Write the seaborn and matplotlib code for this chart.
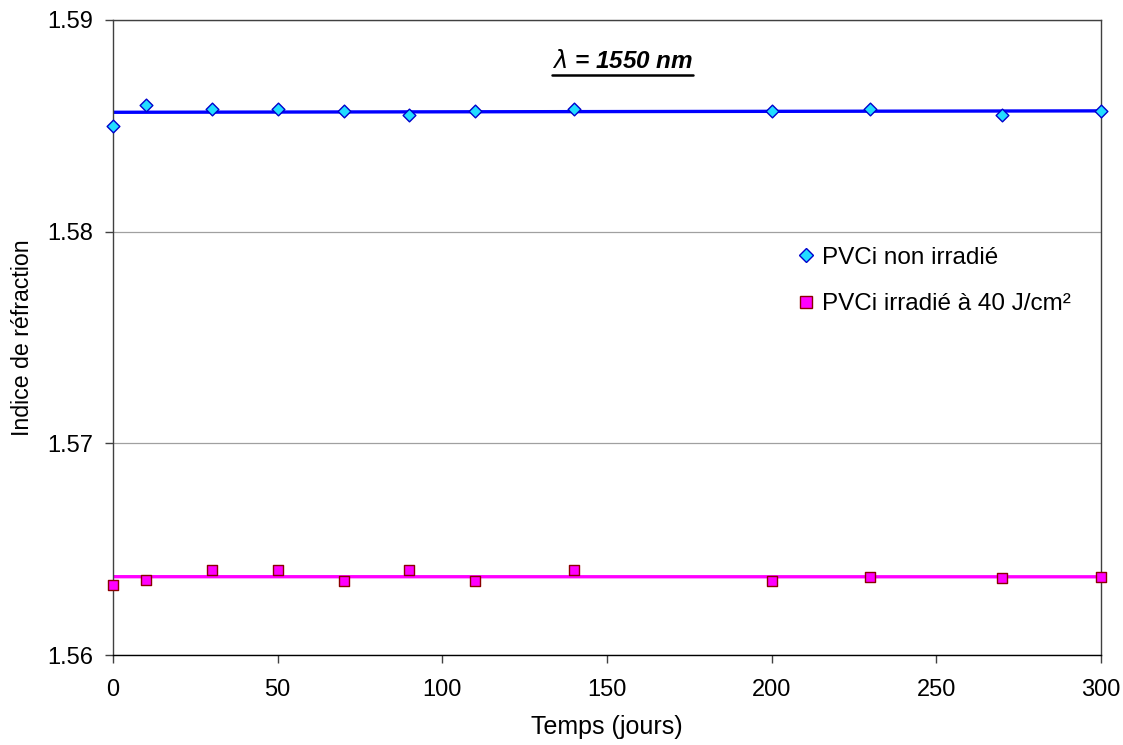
import numpy as np
import pandas as pd
import matplotlib
matplotlib.use("Agg")
import matplotlib.pyplot as plt
import seaborn as sns
from matplotlib.lines import Line2D

# data
jours = [0, 10, 30, 50, 70, 90, 110, 140, 200, 230, 270, 300]
n_non_irradie = [1.5850, 1.5860, 1.5858, 1.5858, 1.5857, 1.5855, 1.5857, 1.5858, 1.5857, 1.5858, 1.5855, 1.5857]
n_irradie = [1.56331, 1.56354, 1.5640, 1.5640, 1.5635, 1.5640, 1.5635, 1.5640, 1.5635, 1.56368, 1.56364, 1.5637]

label_non = "PVCi non irradié"
label_irr = "PVCi irradié à 40 J/cm²"

df_non = pd.DataFrame({"Temps (jours)": jours, "Indice": n_non_irradie})
df_irr = pd.DataFrame({"Temps (jours)": jours, "Indice": n_irradie})

cyan = "#22DDFF"
edge_blue = "#0000CC"
magenta = "#FF00FF"
edge_red = "#8B0000"

sns.set_style("white")
plt.rcParams["font.family"] = ["Liberation Sans", "DejaVu Sans"]
plt.rcParams["text.color"] = "black"
plt.rcParams["axes.labelcolor"] = "black"
plt.rcParams["xtick.color"] = "black"
plt.rcParams["ytick.color"] = "black"

fig = plt.figure(figsize=(11.23, 7.45), dpi=100)
ax = fig.add_axes([0.1006, 0.1208, 0.8798, 0.8524])

# linear trendlines (like Excel)
sns.regplot(data=df_non, x="Temps (jours)", y="Indice", scatter=False, ci=None,
            truncate=True, ax=ax, line_kws=dict(color="#0000FF", lw=2.4, zorder=2))
sns.regplot(data=df_irr, x="Temps (jours)", y="Indice", scatter=False, ci=None,
            truncate=True, ax=ax, line_kws=dict(color=magenta, lw=2.4, zorder=2))

sns.scatterplot(data=df_non, x="Temps (jours)", y="Indice", marker="D", s=42,
                color=cyan, edgecolor=edge_blue, linewidth=1.0, ax=ax, zorder=3,
                clip_on=False)
sns.scatterplot(data=df_irr, x="Temps (jours)", y="Indice", marker="s", s=62,
                color=magenta, edgecolor=edge_red, linewidth=1.0, ax=ax, zorder=3,
                clip_on=False)

ax.set_xlim(0, 300)
ax.set_ylim(1.56, 1.59)
ax.set_xticks([0, 50, 100, 150, 200, 250, 300])
ax.set_yticks([1.56, 1.57, 1.58, 1.59])
ax.set_yticklabels(["1.56", "1.57", "1.58", "1.59"])
ax.yaxis.grid(True, color="#A0A0A0", lw=0.9)
ax.xaxis.grid(False)
for sp in ax.spines.values():
    sp.set_color("#404040")
    sp.set_linewidth(1.0)
ax.spines["bottom"].set_color("black")
ax.tick_params(axis="both", direction="out", length=6, width=1, color="#404040",
               labelcolor="black", labelsize=17, bottom=True, left=True)
ax.tick_params(axis="x", pad=11)
ax.tick_params(axis="y", pad=8)
ax.set_xlabel("Temps (jours)", fontsize=18, labelpad=10, color="black")
ax.set_ylabel("Indice de réfraction", fontsize=16.7, labelpad=10, color="black")

t = ax.text(0.516, 0.934, r"$\lambda$ = 1550 nm", transform=ax.transAxes, color="black",
            ha="center", va="center", fontsize=17.5, fontweight="bold", style="italic")
# underline the title
fig.canvas.draw()
bb = t.get_window_extent().transformed(ax.transAxes.inverted())
ax.add_line(Line2D([bb.x0, bb.x1], [bb.y0 - 0.003, bb.y0 - 0.003], transform=ax.transAxes,
                   color="black", lw=1.8))

handles = [
    Line2D([], [], marker="D", ls="", markersize=7, markerfacecolor=cyan,
           markeredgecolor=edge_blue, markeredgewidth=1.0),
    Line2D([], [], marker="s", ls="", markersize=8, markerfacecolor=magenta,
           markeredgecolor=edge_red, markeredgewidth=1.0),
]
leg = ax.legend(handles, [label_non, label_irr], loc="upper left", bbox_to_anchor=(0.671, 0.677),
                frameon=False, fontsize=17.5, handlelength=0.7, handletextpad=0.3, labelspacing=1.0)
for txt in leg.get_texts():
    txt.set_color("black")

fig.savefig("out.png", dpi=100)
